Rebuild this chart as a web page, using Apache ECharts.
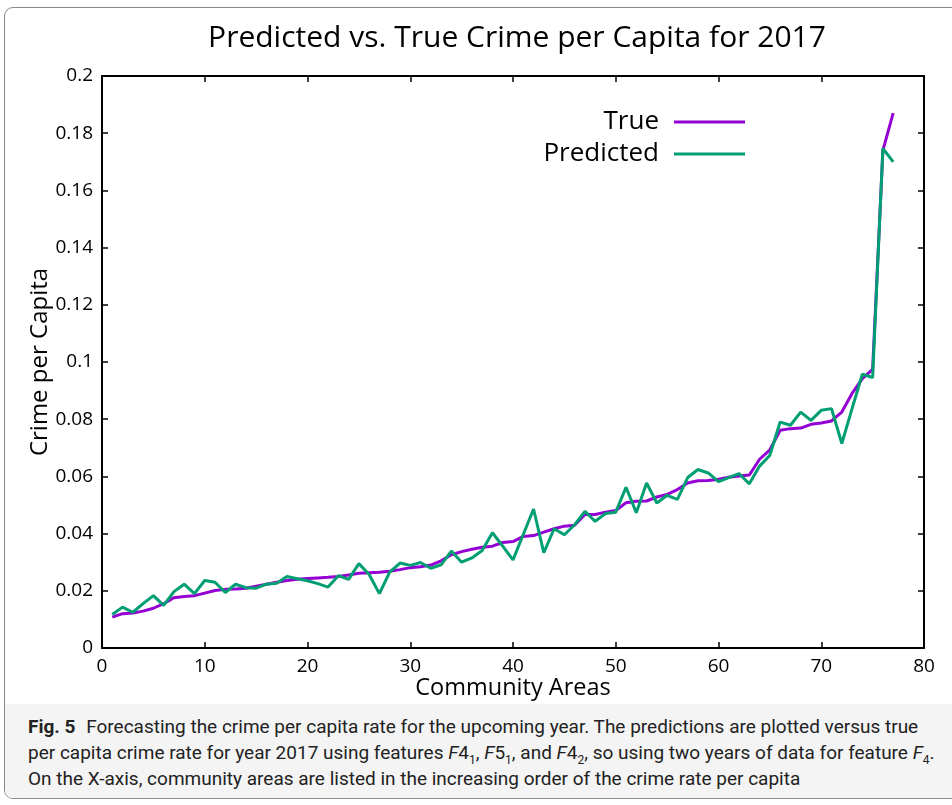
<!DOCTYPE html>
<html>
<head>
<meta charset="utf-8">
<script src="https://cdn.jsdelivr.net/npm/echarts@6/dist/echarts.min.js"></script>
<style>
  body { margin: 0; background: #fff; }
  .page { position: relative; width: 952px; height: 805px; overflow: hidden; }
  .frame {
    position: absolute; left: 4px; top: 7px; width: 970px; height: 790px;
    border: 1px solid #8a8a8a; border-radius: 9px; overflow: hidden;
  }
  .capband { position: absolute; left: 0; right: 0; top: 696px; bottom: 0; background: #f4f4f4; }
  .chart { position: absolute; left: 0; top: 0; width: 952px; height: 705px; }
  .caption {
    position: absolute; left: 28px; top: 714px; width: 924px;
    font-family: Roboto, 'Noto Sans', sans-serif; font-size: 19px; line-height: 26px;
    color: #222; white-space: nowrap;
  }
  .caption b { font-weight: 700; margin-right: 6px; }
  .caption sub { font-size: 12px; line-height: 0; }
</style>
</head>
<body>
<div class="page">
  <div class="frame"><div class="capband"></div></div>
  <div class="chart" id="main"></div>
  <div class="caption">
    <b>Fig. 5</b> Forecasting the crime per capita rate for the upcoming year. The predictions are plotted versus true<br>
    per capita crime rate for year 2017 using features <i>F</i>4<sub>1</sub>, <i>F</i>5<sub>1</sub>, and <i>F</i>4<sub>2</sub>, so using two years of data for feature <i>F</i><sub>4</sub>.<br>
    On the X-axis, community areas are listed in the increasing order of the crime rate per capita
  </div>
</div>
<script>
// community areas sorted by true crime rate
const trueRate = [
  0.0108, 0.0120, 0.0122, 0.0129, 0.0139, 0.0155, 0.0176, 0.0180, 0.0183, 0.0192,
  0.0201, 0.0205, 0.0206, 0.0209, 0.0216, 0.0223, 0.0230, 0.0236, 0.0240, 0.0243,
  0.0245, 0.0247, 0.0250, 0.0255, 0.0261, 0.0263, 0.0265, 0.0268, 0.0274, 0.0281,
  0.0284, 0.0290, 0.0305, 0.0326, 0.0337, 0.0345, 0.0352, 0.0356, 0.0369, 0.0372,
  0.0390, 0.0393, 0.0405, 0.0417, 0.0426, 0.0429, 0.0467, 0.0467, 0.0475, 0.0481,
  0.0508, 0.0513, 0.0514, 0.0528, 0.0537, 0.0554, 0.0577, 0.0585, 0.0586, 0.0590,
  0.0597, 0.0601, 0.0605, 0.0660, 0.0693, 0.0761, 0.0767, 0.0769, 0.0782, 0.0787,
  0.0794, 0.0825, 0.0890, 0.0942, 0.0974, 0.1740, 0.1870
]
const predictedRate = [
  0.0117, 0.0143, 0.0125, 0.0155, 0.0183, 0.0149, 0.0197, 0.0223, 0.0190, 0.0236,
  0.0230, 0.0194, 0.0223, 0.0211, 0.0209, 0.0223, 0.0226, 0.0250, 0.0242, 0.0235,
  0.0225, 0.0213, 0.0253, 0.0240, 0.0295, 0.0257, 0.0190, 0.0265, 0.0297, 0.0289,
  0.0299, 0.0279, 0.0291, 0.0339, 0.0300, 0.0315, 0.0341, 0.0403, 0.0356, 0.0308,
  0.0397, 0.0486, 0.0333, 0.0417, 0.0396, 0.0431, 0.0478, 0.0443, 0.0470, 0.0475,
  0.0562, 0.0473, 0.0577, 0.0507, 0.0534, 0.0520, 0.0596, 0.0624, 0.0612, 0.0582,
  0.0596, 0.0610, 0.0574, 0.0636, 0.0674, 0.0790, 0.0779, 0.0825, 0.0796, 0.0831,
  0.0837, 0.0715, 0.0837, 0.0957, 0.0946, 0.1747, 0.1700
]
const seriesNames = ['True', 'Predicted']

const font = "'Open Sans', 'DejaVu Sans', sans-serif"
const line = () => ({ show: true, onZero: false, lineStyle: { color: '#000', width: 2 } })
const tick = () => ({ show: true, inside: true, length: 6, lineStyle: { color: '#000', width: 1.5 } })

const chart = echarts.init(document.getElementById('main'))
chart.setOption({
  animation: false,
  graphic: [{
    type: 'text',
    x: 517,
    y: 38,
    style: {
      text: 'Predicted vs. True Crime per Capita for 2017',
      fontFamily: font,
      fontSize: 30,
      fill: '#000',
      align: 'center',
      verticalAlign: 'middle'
    }
  }],
  legend: {
    data: seriesNames,
    orient: 'vertical',
    align: 'right',
    right: 207,
    top: 109,
    padding: 0,
    itemWidth: 71,
    itemHeight: 3,
    itemGap: 6,
    icon: 'rect',
    textStyle: { fontFamily: font, fontSize: 26, color: '#000', padding: [0, 10, 0, 0] }
  },
  grid: { left: 102, right: 28, top: 76, bottom: 57, containLabel: false, outerBoundsMode: 'none' },
  xAxis: [
    {
      type: 'value', min: 0, max: 80, interval: 10,
      axisLine: line(), axisTick: tick(),
      splitLine: { show: false },
      axisLabel: { color: '#000', fontSize: 19, fontFamily: font, margin: 9 },
      name: 'Community Areas',
      nameLocation: 'middle',
      nameGap: 28,
      nameMoveOverlap: false,
      nameTextStyle: { color: '#000', fontSize: 23.5, fontFamily: font }
    },
    {
      type: 'value', position: 'top', min: 0, max: 80, interval: 10,
      axisLine: line(), axisTick: tick(), splitLine: { show: false }, axisLabel: { show: false }
    }
  ],
  yAxis: [
    {
      type: 'value', min: 0, max: 0.2, interval: 0.02,
      axisLine: line(), axisTick: tick(),
      splitLine: { show: false },
      axisLabel: { color: '#000', fontSize: 19, fontFamily: font, margin: 9 },
      name: 'Crime per Capita',
      nameLocation: 'middle',
      nameGap: 50,
      nameMoveOverlap: false,
      nameTextStyle: { color: '#000', fontSize: 24, fontFamily: font }
    },
    {
      type: 'value', position: 'right', min: 0, max: 0.2, interval: 0.02,
      axisLine: line(), axisTick: tick(), splitLine: { show: false }, axisLabel: { show: false }
    }
  ],
  series: [
    {
      name: 'True',
      type: 'line',
      data: trueRate.map((v, i) => [i + 1, v]),
      showSymbol: false,
      color: '#9400d3',
      lineStyle: { width: 3, color: '#9400d3' }
    },
    {
      name: 'Predicted',
      type: 'line',
      data: predictedRate.map((v, i) => [i + 1, v]),
      showSymbol: false,
      color: '#009e73',
      lineStyle: { width: 3, color: '#009e73' }
    }
  ]
})
</script>
</body>
</html>
